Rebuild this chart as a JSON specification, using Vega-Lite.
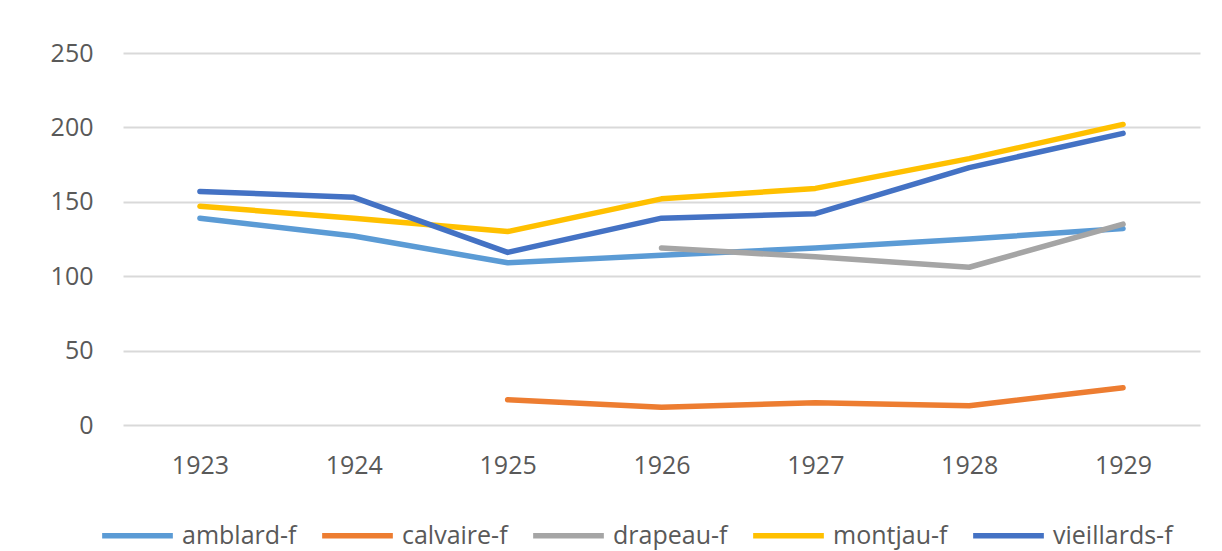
{
  "$schema": "https://vega.github.io/schema/vega-lite/v6.json",
  "width": 1077,
  "height": 372,
  "autosize": "none",
  "padding": {"left": 123, "top": 53, "right": 22, "bottom": 126},
  "background": "white",
  "config": {
    "font": "Open Sans",
    "view": {"stroke": null},
    "axis": {"labelFont": "Open Sans", "labelFontSize": 25, "labelColor": "#595959"},
    "legend": {"labelFont": "Open Sans", "labelFontSize": 25, "labelColor": "#595959"}
  },
  "data": {
    "values": [
      {"year": "1923", "series": "amblard-f", "value": 139},
      {"year": "1924", "series": "amblard-f", "value": 127},
      {"year": "1925", "series": "amblard-f", "value": 109},
      {"year": "1926", "series": "amblard-f", "value": 114},
      {"year": "1927", "series": "amblard-f", "value": 119},
      {"year": "1928", "series": "amblard-f", "value": 125},
      {"year": "1929", "series": "amblard-f", "value": 132},
      {"year": "1925", "series": "calvaire-f", "value": 17},
      {"year": "1926", "series": "calvaire-f", "value": 12},
      {"year": "1927", "series": "calvaire-f", "value": 15},
      {"year": "1928", "series": "calvaire-f", "value": 13},
      {"year": "1929", "series": "calvaire-f", "value": 25},
      {"year": "1926", "series": "drapeau-f", "value": 119},
      {"year": "1927", "series": "drapeau-f", "value": 113},
      {"year": "1928", "series": "drapeau-f", "value": 106},
      {"year": "1929", "series": "drapeau-f", "value": 135},
      {"year": "1923", "series": "montjau-f", "value": 147},
      {"year": "1924", "series": "montjau-f", "value": 139},
      {"year": "1925", "series": "montjau-f", "value": 130},
      {"year": "1926", "series": "montjau-f", "value": 152},
      {"year": "1927", "series": "montjau-f", "value": 159},
      {"year": "1928", "series": "montjau-f", "value": 179},
      {"year": "1929", "series": "montjau-f", "value": 202},
      {"year": "1923", "series": "vieillards-f", "value": 157},
      {"year": "1924", "series": "vieillards-f", "value": 153},
      {"year": "1925", "series": "vieillards-f", "value": 116},
      {"year": "1926", "series": "vieillards-f", "value": 139},
      {"year": "1927", "series": "vieillards-f", "value": 142},
      {"year": "1928", "series": "vieillards-f", "value": 173},
      {"year": "1929", "series": "vieillards-f", "value": 196}
    ]
  },
  "mark": {"type": "line", "strokeWidth": 5.5, "strokeCap": "round", "strokeJoin": "round"},
  "encoding": {
    "x": {
      "field": "year", "type": "ordinal",
      "scale": {"type": "point", "padding": 0.5},
      "axis": {"title": null, "labelAngle": 0, "domain": false, "ticks": false, "labelPadding": 28, "grid": false}
    },
    "y": {
      "field": "value", "type": "quantitative",
      "scale": {"domain": [0, 250], "nice": false},
      "axis": {"title": null, "values": [0, 50, 100, 150, 200, 250], "domain": false, "ticks": false, "labelPadding": 30, "gridColor": "#d9d9d9", "gridWidth": 2}
    },
    "color": {
      "field": "series", "type": "nominal",
      "scale": {
        "domain": ["amblard-f", "calvaire-f", "drapeau-f", "montjau-f", "vieillards-f"],
        "range": ["#5B9BD5", "#ED7D31", "#A5A5A5", "#FFC000", "#4472C4"]
      },
      "legend": {
        "title": null, "orient": "none", "direction": "horizontal",
        "legendX": -24, "legendY": 444,
        "symbolType": "stroke", "symbolSize": 5000, "symbolStrokeWidth": 5.5,
        "labelOffset": 6, "columnPadding": 14
      }
    }
  }
}
